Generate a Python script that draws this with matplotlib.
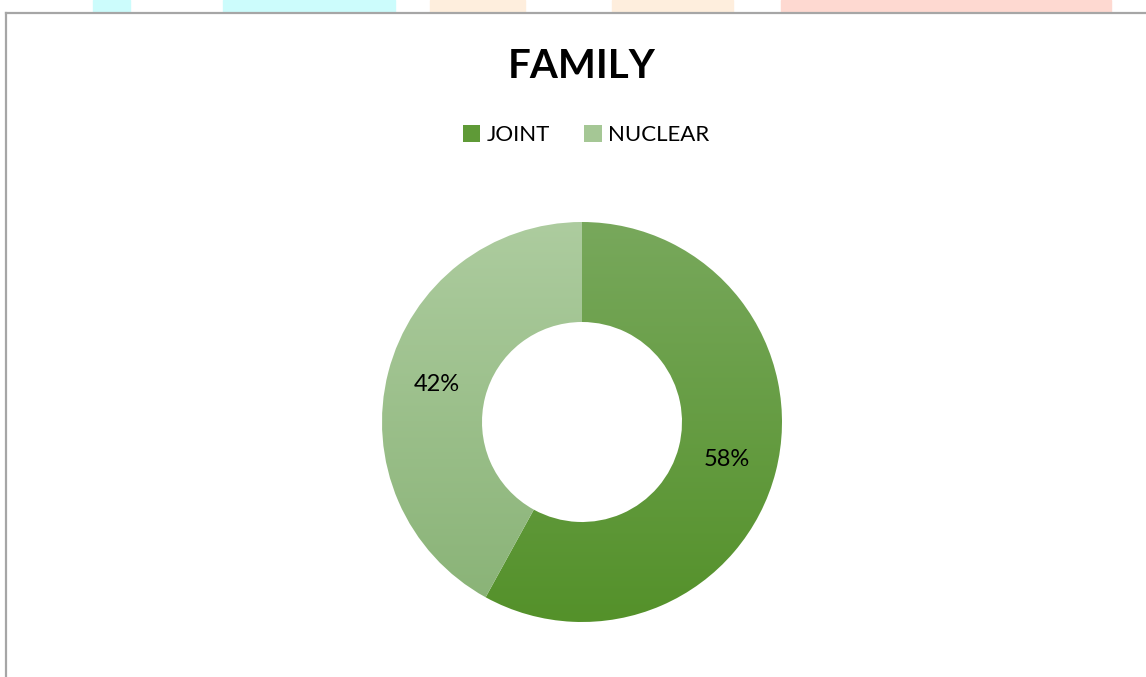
import numpy as np
import matplotlib.pyplot as plt
from matplotlib.colors import LinearSegmentedColormap
from matplotlib.patches import Rectangle, Patch
from matplotlib.lines import Line2D

labels = ["JOINT", "NUCLEAR"]
values = [58, 42]
top_colors = ["#78a85c", "#adcc9f"]
bottom_colors = ["#54912a", "#88b275"]
legend_colors = ["#5f9a37", "#a5c795"]

plt.rcParams['font.family'] = ['Lato', 'DejaVu Sans']

W, H = 1146, 677
fig = plt.figure(figsize=(W / 100, H / 100), dpi=100)

# faint watermark strips above the chart frame
for x0, x1, c in [(93, 130, "#ccfcfc"), (223, 395, "#ccfcfc"),
                  (430, 525, "#feeedd"), (612, 733, "#feeedd"),
                  (781, 1111, "#fed9d1")]:
    fig.patches.append(Rectangle((x0 / W, 1 - 12 / H), (x1 - x0) / W, 12 / H,
                                 transform=fig.transFigure, color=c, zorder=0))

# chart frame (left and top edges visible)
fig.add_artist(Line2D([6 / W, 6 / W], [0, 1 - 12.5 / H], transform=fig.transFigure,
                      color="#a6a6a6", lw=1.6))
fig.add_artist(Line2D([6 / W, 1], [1 - 12.5 / H, 1 - 12.5 / H], transform=fig.transFigure,
                      color="#a6a6a6", lw=1.6))

ax = fig.add_axes([382 / W, 55 / H, 400 / W, 400 / H])
wedges, texts, autotexts = ax.pie(values, startangle=90, counterclock=False,
                                  radius=1.0, autopct='%d%%', pctdistance=0.75,
                                  wedgeprops=dict(width=0.5, linewidth=0),
                                  textprops=dict(fontsize=17, color="black"))
ax.set_xlim(-1, 1)
ax.set_ylim(-1, 1)
ax.set_aspect('equal')
ax.axis('off')

# vertical gradient fill for each wedge
grad = np.linspace(1, 0, 256).reshape(-1, 1)
for w, ct, cb in zip(wedges, top_colors, bottom_colors):
    w.set_facecolor("none")
    cmap = LinearSegmentedColormap.from_list("g", [cb, ct])
    im = ax.imshow(grad, cmap=cmap, extent=[-1, 1, -1, 1], aspect='auto',
                   origin='upper', zorder=0.5)
    im.set_clip_path(w)
for t in autotexts:
    t.set_zorder(3)

fig.text(582 / W, 1 - 66 / H, "FAMILY", fontsize=29, fontweight='bold',
         ha='center', va='center')

handles = [Patch(facecolor=c, edgecolor='none') for c in legend_colors]
fig.legend(handles, labels, loc='center', bbox_to_anchor=(586 / W, 1 - 135 / H),
           ncol=2, frameon=False, fontsize=16, handlelength=0.8, handleheight=0.8,
           handletextpad=0.3, columnspacing=1.5)

fig.savefig("out.png", dpi=100)
